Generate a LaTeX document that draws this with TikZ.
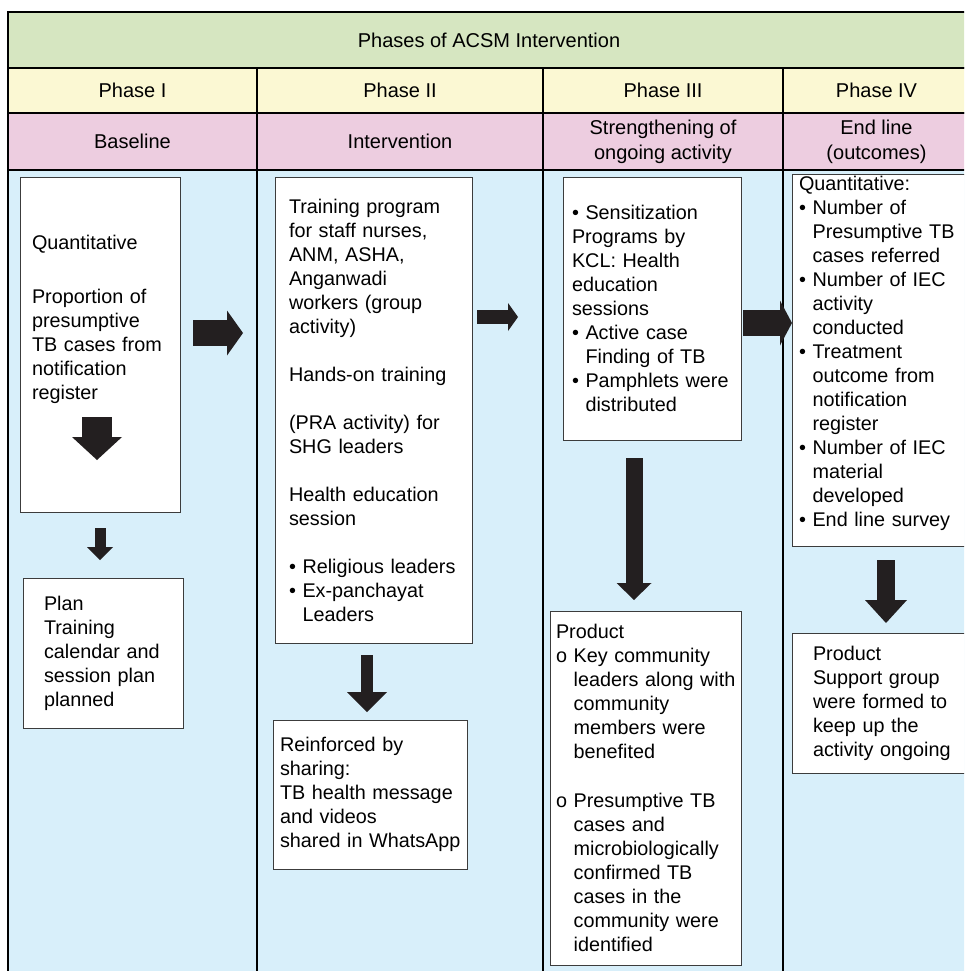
\documentclass[tikz,border=0pt]{standalone}
\usepackage{fontspec}
\setmainfont{Liberation Sans}
\usepackage{tikz}
\usetikzlibrary{arrows.meta}
\definecolor{rowgreen}{RGB}{214,230,193}
\definecolor{rowyellow}{RGB}{251,248,211}
\definecolor{rowpink}{RGB}{237,205,224}
\definecolor{bodyblue}{RGB}{216,239,250}
\definecolor{boxline}{RGB}{60,60,60}
\definecolor{arrowfill}{RGB}{35,31,32}
\newcommand{\headfont}{\fontsize{20}{25}\selectfont}
\newcommand{\boxfont}{\fontsize{19.8}{24}\selectfont\hyphenpenalty=10000}
\newcommand{\itembul}{\textbullet~}
\newcommand{\itemgap}{\phantom{\textbullet~}}
\newcommand{\subgap}{\phantom{o~}}
\tikzset{
	cellnode/.style = {rectangle, draw=black, line width=1.2pt, anchor=north west, inner sep=0pt, outer sep=0pt, align=center, font=\headfont},
	titlecell/.style = {cellnode, fill=rowgreen, minimum height=56pt},
	phasecell/.style = {cellnode, fill=rowyellow, minimum height=45pt},
	stagecell/.style = {cellnode, fill=rowpink, minimum height=57pt},
	textbox/.style = {rectangle, draw=boxline, line width=1pt, fill=white, anchor=north west, inner ysep=0pt, outer sep=0pt, align=left, font=\boxfont},
	blockarrow/.style n args = {3}{draw=arrowfill, line width=#1, -{Triangle[width=#2, length=#3, line width=0pt]}}
}

\begin{document}
\begin{tikzpicture}[x=1pt, y=-1pt]
	\useasboundingbox (0,0) rectangle (964,971);
	\clip (0,0) rectangle (964,971);

	%body of the table
	\fill[bodyblue] (8,170) rectangle (970,995);
	\draw[line width=1.2pt] (8,170) -- (8,995) (257,170) -- (257,995)
		(543,170) -- (543,995) (783,170) -- (783,995) (970,170) -- (970,995);

	%heading rows
	\node (title) [titlecell, minimum width=962pt] at (8,12) {Phases of ACSM Intervention};
	\node (phaseone) [phasecell, minimum width=249pt] at (8,68) {Phase I};
	\node (phasetwo) [phasecell, minimum width=286pt] at (257,68) {Phase II};
	\node (phasethree) [phasecell, minimum width=240pt] at (543,68) {Phase III};
	\node (phasefour) [phasecell, minimum width=187pt] at (783,68) {Phase IV};
	\node (baseline) [stagecell, minimum width=249pt] at (8,113) {Baseline};
	\node (intervention) [stagecell, minimum width=286pt] at (257,113) {Intervention};
	\node (strength) [stagecell, minimum width=240pt] at (543,113) {Strengthening of\\ongoing activity};
	\node (endline) [stagecell, minimum width=187pt] at (783,113) {End line\\(outcomes)};

	%boxes in the columns
	\node (quant) [textbox, text width=136pt, inner xsep=12pt, minimum height=335pt] at (20,177)
		{Quantitative\\[30pt]Proportion of\\presumptive\\\mbox{TB cases from}\\notification\\register\\[30pt]\mbox{}};
	\node (plan) [textbox, text width=118pt, inner xsep=21pt, minimum height=150pt] at (23,578)
		{Plan\\Training\\\mbox{calendar and}\\\mbox{session plan}\\planned};
	\node (training) [textbox, text width=169pt, inner xsep=14pt, minimum height=466pt] at (275,177)
		{Training program\\for staff nurses,\\ANM, ASHA,\\Anganwadi\\workers (group\\activity)\\[24pt]\mbox{Hands-on training}\\[24pt](PRA activity) for\\SHG leaders\\[24pt]Health education\\session\\[24pt]\mbox{\itembul Religious leaders}\\\itembul Ex-panchayat\\\itemgap Leaders};
	\node (reinforce) [textbox, text width=180pt, inner xsep=7pt, minimum height=149pt] at (273,720)
		{Reinforced by\\sharing:\\\mbox{TB health message}\\and videos\\\mbox{shared in WhatsApp}};
	\node (sensitize) [textbox, text width=160pt, inner xsep=9pt, minimum height=263pt] at (563,177)
		{\itembul Sensitization\\Programs by\\KCL: Health\\education\\sessions\\\itembul Active case\\\itemgap Finding of TB\\\mbox{\itembul Pamphlets were}\\\itemgap distributed};
	\node (product) [textbox, text width=179pt, inner xsep=6pt, minimum height=354pt] at (550,611)
		{Product\\o Key community\\\mbox{\subgap leaders along with}\\\subgap community\\\subgap members were\\\subgap benefited\\[25pt]o Presumptive TB\\\subgap cases and\\\mbox{\subgap microbiologically}\\\subgap confirmed TB\\\subgap cases in the\\\mbox{\subgap community were}\\\subgap identified};
	\node (outcome) [textbox, text width=166pt, inner xsep=7pt, minimum height=372pt] at (792,174)
		{Quantitative:\\\itembul Number of\\\mbox{\itemgap Presumptive TB}\\\itemgap cases referred\\\itembul Number of IEC\\\itemgap activity\\\itemgap conducted\\\itembul Treatment\\\itemgap outcome from\\\itemgap notification\\\itemgap register\\\itembul Number of IEC\\\itemgap material\\\itemgap developed\\\mbox{\itembul End line survey}\\[-6pt]\mbox{}};
	\node (support) [textbox, text width=140pt, inner xsep=21pt, minimum height=140pt] at (792,633)
		{Product\\Support group\\were formed to\\keep up the\\\mbox{activity ongoing}};

	%arrow ends
	\coordinate (quanttop) at (97,417);
	\coordinate (quantend) at (97,460);
	\coordinate (plantop) at (100,528);
	\coordinate (planend) at (100,560);
	\coordinate (onestart) at (193,333);
	\coordinate (oneend) at (243,333);
	\coordinate (twostart) at (477,317);
	\coordinate (twoend) at (518,317);
	\coordinate (threestart) at (743,323);
	\coordinate (threeend) at (792,323);
	\coordinate (trainbottom) at (367,655);
	\coordinate (reinforcetop) at (367,712);
	\coordinate (sensbottom) at (634,458);
	\coordinate (producttop) at (634,600);
	\coordinate (outbottom) at (886,560);
	\coordinate (supporttop) at (886,623);

	%block arrows
	\path [blockarrow={30pt}{50pt}{23pt}] (quanttop) -- (quantend);
	\path [blockarrow={11pt}{26pt}{13pt}] (plantop) -- (planend);
	\path [blockarrow={26pt}{45pt}{16pt}] (onestart) -- (oneend);
	\path [blockarrow={14pt}{28pt}{10pt}] (twostart) -- (twoend);
	\path [blockarrow={26pt}{45pt}{12pt}] (threestart) -- (threeend);
	\path [blockarrow={12pt}{40pt}{20pt}] (trainbottom) -- (reinforcetop);
	\path [blockarrow={17pt}{35pt}{17pt}] (sensbottom) -- (producttop);
	\path [blockarrow={18pt}{42pt}{23pt}] (outbottom) -- (supporttop);
\end{tikzpicture}
\end{document}
